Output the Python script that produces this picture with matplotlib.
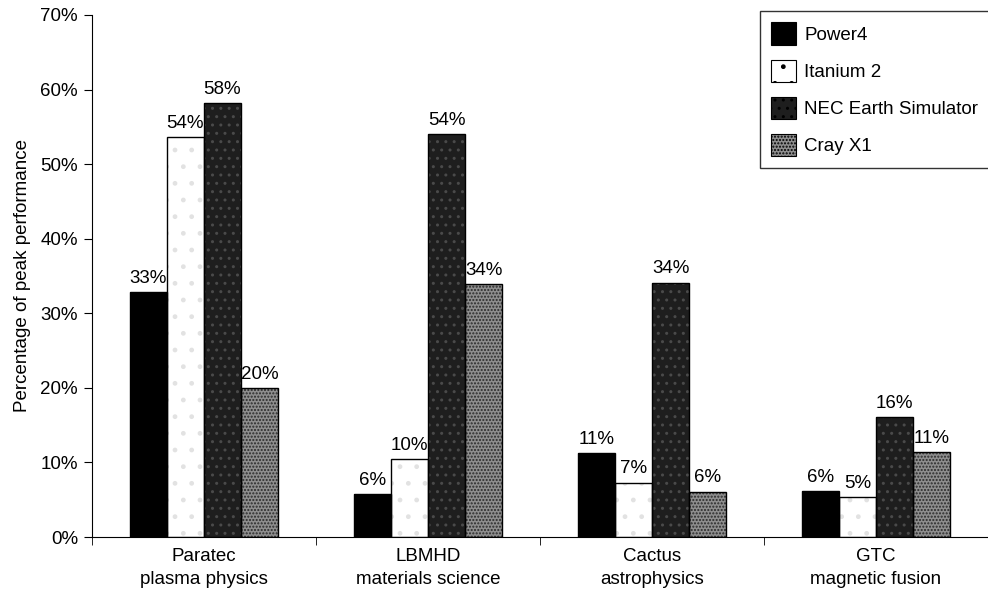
import matplotlib
matplotlib.use('Agg')
import matplotlib.pyplot as plt
from matplotlib.patches import Patch
import numpy as np

plt.rcParams['font.family'] = ['Liberation Sans', 'DejaVu Sans']

categories = ['Paratec\nplasma physics', 'LBMHD\nmaterials science',
              'Cactus\nastrophysics', 'GTC\nmagnetic fusion']
systems = ['Power4', 'Itanium 2', 'NEC Earth Simulator', 'Cray X1']

# heights, labels as printed
power4 = [32.8, 5.8, 11.3, 6.2]
itanium2 = [53.6, 10.4, 7.3, 5.3]
nec_es = [58.2, 54.0, 34.1, 16.1]
cray_x1 = [20.0, 33.9, 6.1, 11.4]
power4_lbl = ['33%', '6%', '11%', '6%']
itanium2_lbl = ['54%', '10%', '7%', '5%']
nec_es_lbl = ['58%', '54%', '34%', '16%']
cray_x1_lbl = ['20%', '34%', '6%', '11%']

series = [power4, itanium2, nec_es, cray_x1]
labels = [power4_lbl, itanium2_lbl, nec_es_lbl, cray_x1_lbl]
faces = ['#000000', '#ffffff', '#1e1e1e', '#8e8e8e']
hatches = [None, '.', '..', '.....']
hatch_cols = ['#000000', '#e2e2e2', '#4a4a4a', '#2a2a2a']

fs = 13.5

fig = plt.figure(figsize=(9.88, 5.99), dpi=100)
ax = fig.add_axes([0.093, 0.1035, 0.907, 0.8715])

x = np.arange(len(categories))
w = 0.166
for i, (vals, lbls) in enumerate(zip(series, labels)):
  pos = x + (i - 1.5) * w
  ax.bar(pos, vals, w, color=faces[i], hatch=hatches[i],
         edgecolor=hatch_cols[i], linewidth=0, zorder=2)
  ax.bar(pos, vals, w, facecolor='none', edgecolor='black',
         linewidth=1.0, zorder=3)
  for p, v, t in zip(pos, vals, lbls):
    ax.text(p, v + 0.7, t, ha='center', va='bottom', fontsize=fs)

handles = [Patch(facecolor=faces[i], hatch=hatches[i], edgecolor=hatch_cols[i])
           for i in range(4)]
leg = fig.legend(handles, systems, loc='upper left',
                 bbox_to_anchor=(760 / 988, 1 - 11 / 599), frameon=True,
                 fancybox=False, edgecolor='black', fontsize=fs,
                 handlelength=1.3, handleheight=1.45, labelspacing=0.8,
                 borderpad=0.6, handletextpad=0.45, borderaxespad=0)
leg.get_frame().set_linewidth(1.0)
for h in leg.legend_handles:
  h.set_edgecolor('black')
  h.set_linewidth(0.8)

ax.set_xlim(-0.5, 3.5)
ax.set_ylim(0, 70)
ax.set_yticks(np.arange(0, 71, 10))
ax.set_yticklabels(['%d%%' % v for v in range(0, 71, 10)], fontsize=fs)
ax.set_xticks(x)
ax.set_xticklabels(categories, fontsize=fs, linespacing=1.45)
ax.tick_params(axis='x', which='major', length=0, pad=8)
ax.set_xticks(np.arange(-0.5, 3.5, 1.0), minor=True)
ax.tick_params(axis='x', which='minor', length=6, direction='out')
ax.tick_params(axis='y', length=6, direction='out', pad=4)
ax.spines['top'].set_visible(False)
ax.spines['right'].set_visible(False)
ax.set_ylabel('Percentage of peak performance', fontsize=fs, labelpad=7)

fig.savefig('out.png', dpi=100)
